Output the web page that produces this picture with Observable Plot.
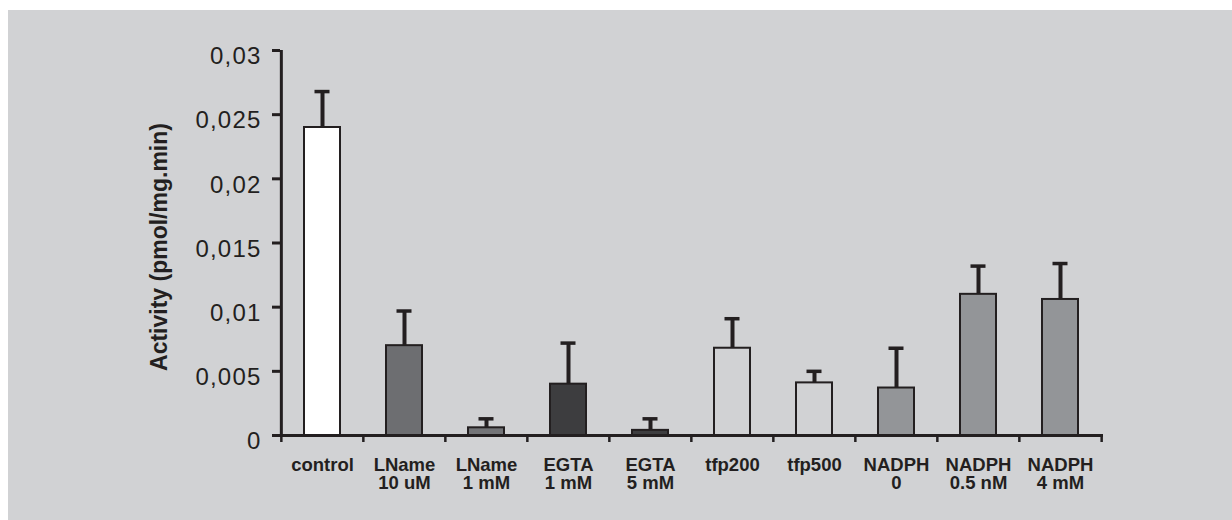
<!DOCTYPE html>
<html>
<head>
<meta charset="utf-8">
<script src="https://cdn.jsdelivr.net/npm/d3@7"></script>
<script src="https://cdn.jsdelivr.net/npm/@observablehq/plot@0.6"></script>
<style>
  html, body { margin: 0; padding: 0; background: #ffffff; }
  #wrap { position: relative; width: 1232px; height: 520px; overflow: hidden; }
  #panel { position: absolute; left: 8px; top: 10px; right: 0; bottom: 0; background: #d1d2d4; }
  #chart { position: absolute; left: 0; top: 0; }
  #chart g[aria-label="y-axis tick label"] text { letter-spacing: 1.2px; }
</style>
</head>
<body>
<div id="wrap"><div id="panel"></div><div id="chart"></div></div>
<script>
// ---- data ----
const categories = ["control", "LName\n10 uM", "LName\n1 mM", "EGTA\n1 mM", "EGTA\n5 mM",
                    "tfp200", "tfp500", "NADPH\n0", "NADPH\n0.5 nM", "NADPH\n4 mM"];
const means  = [0.0240, 0.0070, 0.0006, 0.0040, 0.0004, 0.0068, 0.0041, 0.0037, 0.0110, 0.0106];
const errors = [0.0028, 0.0027, 0.0007, 0.0032, 0.0009, 0.0023, 0.0009, 0.0031, 0.0022, 0.0028];
const yTicks = [0, 0.005, 0.01, 0.015, 0.02, 0.025, 0.03];
const yLabel = "Activity (pmol/mg.min)";
// styles (kept separate from data)
const barFills = ["#ffffff", "#6d6e71", "#737477", "#3d3d3f", "#3d3d3f",
                  "#d1d2d4", "#d1d2d4", "#939598", "#939598", "#939598"];

const ink = "#231f20";
const W = 1232, H = 520, mL = 280, mR = 129, mT = 50, mB = 85;
const step = (W - mL - mR) / categories.length;

const data = categories.map((c, i) => ({cat: c, value: means[i], upper: means[i] + errors[i], fill: barFills[i]}));
const fmt = d => d === 0 ? "0" : String(+d.toFixed(3)).replace(".", ",");

const chart = Plot.plot({
  width: W, height: H,
  marginLeft: mL, marginRight: mR, marginTop: mT, marginBottom: mB,
  style: {background: "transparent", color: ink, fontFamily: "'Liberation Sans', Arial, sans-serif"},
  x: {type: "band", domain: categories, paddingInner: 0.56, paddingOuter: 0.28, axis: null},
  y: {domain: [0, 0.03], axis: null},
  color: {type: "identity"},
  marks: [
    // error bars (stem + cap)
    Plot.ruleX(data, {x: "cat", y1: "value", y2: "upper", stroke: ink, strokeWidth: 4}),
    Plot.tickY(data, {x: "cat", y: "upper", stroke: ink, strokeWidth: 3.5, insetLeft: 10.5, insetRight: 10.5}),
    // bars
    Plot.barY(data, {x: "cat", y: "value", fill: "fill", stroke: ink, strokeWidth: 2}),
    // y axis line
    Plot.ruleX([categories[0]], {x: d => d, y1: 0, y2: 0.03, dx: -step / 2, stroke: ink, strokeWidth: 3}),
    // x axis line
    Plot.ruleY([0], {stroke: ink, strokeWidth: 3}),
    // x ticks at band boundaries
    Plot.ruleX(categories, {x: d => d, y1: 0, y2: 0, insetBottom: -7, dx: -step / 2, stroke: ink, strokeWidth: 2.5}),
    Plot.ruleX([categories[categories.length - 1]], {x: d => d, y1: 0, y2: 0, insetBottom: -7, dx: step / 2, stroke: ink, strokeWidth: 2.5}),
    // y ticks
    Plot.axisY({ticks: yTicks, tickSize: 8, tickFormat: () => "", stroke: ink, strokeWidth: 3}),
    // y tick labels
    Plot.axisY({ticks: yTicks, tickSize: 0, tickPadding: 19, dy: 6, tickFormat: fmt, fontSize: 24, fill: ink}),
    // x labels
    Plot.text(data, {x: "cat", y: 0, text: "cat", dy: 23, lineAnchor: "top", lineHeight: 0.95,
                     fontSize: 18.5, fontWeight: "bold", fill: ink}),
    // y axis title
    Plot.text([yLabel], {frameAnchor: "left", text: d => d, rotate: -90, dx: -121, dy: 4, textAnchor: "middle",
                         fontSize: 23, fontWeight: "bold", fill: ink})
  ]
});
document.getElementById("chart").appendChild(chart);
</script>
</body>
</html>
